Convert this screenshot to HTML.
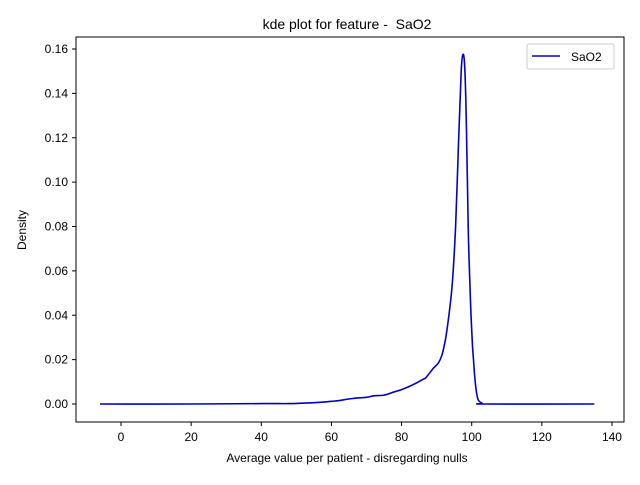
<!DOCTYPE html>
<html><head><meta charset="utf-8"><style>
body{margin:0;background:#fff;}
svg{font-family:"Liberation Sans","DejaVu Sans",sans-serif;}
</style></head><body>
<svg id="chart" width="640" height="480" viewBox="0 0 640 480">
<rect width="640" height="480" fill="#fff"/>
<text x="347" y="29" text-anchor="middle" font-size="14" style="white-space:pre">kde plot for feature -  SaO2</text>
<g id="ticks"></g>
<path id="curve" fill="none" stroke="#0000cc" stroke-width="1.6" stroke-linejoin="round"/>
<rect x="76" y="37" width="548" height="385" fill="none" stroke="#000" stroke-width="1"/>
<g>
<rect x="527" y="44" width="87" height="25" rx="2" fill="#fff" stroke="#ccc"/>
<line x1="532" y1="56" x2="560" y2="56" stroke="#0000cc" stroke-width="1.6"/>
<text x="571" y="61" font-size="12">SaO2</text>
</g>
<text x="347" y="462" text-anchor="middle" font-size="12">Average value per patient - disregarding nulls</text>
<text transform="translate(26,230) rotate(-90)" text-anchor="middle" font-size="12">Density</text>
</svg>
<script>
const xTicks=[0,20,40,60,80,100,120,140];
const yTicks=[0,0.02,0.04,0.06,0.08,0.10,0.12,0.14,0.16];
const yTickLabels=["0.00","0.02","0.04","0.06","0.08","0.10","0.12","0.14","0.16"];
const xs=[-6,20,40,48,55,60,62,66,70,72,75,78,80,83,86,87,89,90.5,91.5,92.5,93.5,94.5,95.4,96.3,97,97.5,98,98.5,99,99.4,99.8,100.2,100.5,101,101.5,102,103,104,135];
const ys=[0,0,0.0002,0.0002,0.0006,0.0012,0.0015,0.0025,0.003,0.0037,0.004,0.0055,0.0065,0.0085,0.011,0.012,0.016,0.0185,0.022,0.029,0.04,0.055,0.08,0.12,0.15,0.1575,0.152,0.125,0.08,0.058,0.04,0.027,0.02,0.01,0.004,0.0015,0.0003,0,0];
const X=v=>121+(v-0)*3.507;
const Y=v=>404-v*2218.75;
const ns="http://www.w3.org/2000/svg";
const g=document.getElementById('ticks');
xTicks.forEach(t=>{
  const l=document.createElementNS(ns,'line');
  l.setAttribute('x1',X(t));l.setAttribute('x2',X(t));l.setAttribute('y1',422);l.setAttribute('y2',426);l.setAttribute('stroke','#000');
  
  
  g.appendChild(l);
  const tx=document.createElementNS(ns,'text');
  tx.setAttribute('x',X(t));tx.setAttribute('y',441);tx.setAttribute('text-anchor','middle');tx.setAttribute('font-size','12');
  tx.textContent=t;
  
  
  g.appendChild(tx);
});
yTicks.forEach((t,i)=>{
  const l=document.createElementNS(ns,'line');
  l.setAttribute('x1',72);l.setAttribute('x2',76);l.setAttribute('y1',Y(t));l.setAttribute('y2',Y(t));l.setAttribute('stroke','#000');
  
  
  g.appendChild(l);
  const tx=document.createElementNS(ns,'text');
  tx.setAttribute('x',68);tx.setAttribute('y',Y(t)+4);tx.setAttribute('text-anchor','end');tx.setAttribute('font-size','12');
  tx.textContent=yTickLabels[i];
  
  
  g.appendChild(tx);
});
// Catmull-Rom smoothing through the data points
const P=xs.map((x,i)=>[X(x),Y(ys[i])]);
let d='M'+P[0][0].toFixed(1)+','+P[0][1].toFixed(1);
for(let i=0;i<P.length-1;i++){
  const p0=P[Math.max(i-1,0)],p1=P[i],p2=P[i+1],p3=P[Math.min(i+2,P.length-1)];
  const c1=[p1[0]+(p2[0]-p0[0])/6,p1[1]+(p2[1]-p0[1])/6];
  const c2=[p2[0]-(p3[0]-p1[0])/6,p2[1]-(p3[1]-p1[1])/6];
  d+='C'+c1[0].toFixed(1)+','+c1[1].toFixed(1)+' '+c2[0].toFixed(1)+','+c2[1].toFixed(1)+' '+p2[0].toFixed(1)+','+p2[1].toFixed(1);
}
document.getElementById('curve').setAttribute('d',d);
</script>
</body></html>
